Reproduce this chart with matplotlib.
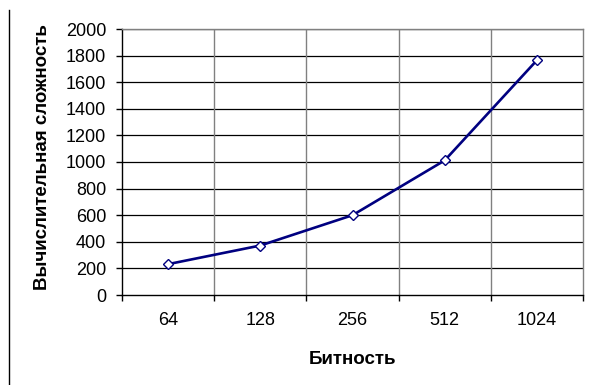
"""Computational complexity vs key bit length."""

import matplotlib

matplotlib.use("Agg")
import matplotlib.pyplot as plt
from matplotlib.lines import Line2D
import numpy as np

plt.rcParams["font.family"] = ["Liberation Sans", "DejaVu Sans"]

bits = ["64", "128", "256", "512", "1024"]
complexity = [232, 372, 600, 1012, 1765]
y_ticks = list(range(0, 2001, 200))

fig = plt.figure(figsize=(5.92, 3.85), dpi=100)
ax = fig.add_axes([122 / 592, 90 / 385, 461 / 592, 266 / 385])

pos = np.arange(len(bits)) + 0.5
ax.plot(pos, complexity, color="#000080", linewidth=1.9, marker="D",
        markersize=5.5, markerfacecolor="white", markeredgecolor="#000080",
        markeredgewidth=1.0, zorder=3)

ax.set_xlim(0, len(bits))
ax.set_ylim(0, 2000)
ax.set_yticks(y_ticks)
ax.set_xticks(np.arange(len(bits) + 1))
ax.set_xticklabels([])
ax.set_xticks(pos, minor=True)
ax.set_xticklabels(bits, minor=True)
ax.tick_params(axis="x", which="major", direction="out", length=4, width=1, color="black")
ax.tick_params(axis="x", which="minor", length=0, pad=12, labelsize=13)
ax.tick_params(axis="y", direction="out", length=4, width=1, color="black",
               pad=7.5, labelsize=13)

# horizontal grid black, vertical grid gray
for v in y_ticks[1:]:
    ax.axhline(v, color="black", linewidth=0.9, zorder=1)
for k in range(1, len(bits)):
    ax.axvline(k, color="#808080", linewidth=1.0, zorder=1)

ax.spines["left"].set_color("black")
ax.spines["bottom"].set_color("black")
ax.spines["top"].set_color("#808080")
ax.spines["right"].set_color("#808080")
for s in ax.spines.values():
    s.set_linewidth(1.0)

fig.text(352 / 592, 1 - 359 / 385, "Битность", ha="center", va="center",
         fontsize=13.5, fontweight="bold")
fig.text(42.5 / 592, 1 - 157 / 385, "Вычислительная сложность", ha="center",
         va="center", rotation=90, fontsize=13.5, fontweight="bold")

fig.add_artist(Line2D([9 / 592, 9 / 592], [1 - 10 / 385, 0], color="black",
                      linewidth=1.0))

fig.savefig("out.png", dpi=100)
plt.close(fig)
